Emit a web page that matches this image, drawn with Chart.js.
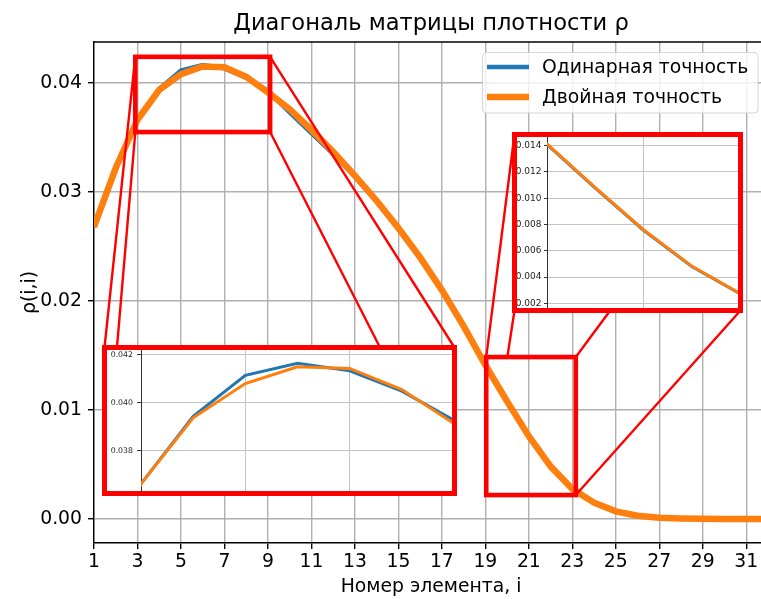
<!DOCTYPE html>
<html>
<head>
<meta charset="utf-8">
<title>Диагональ матрицы плотности ρ</title>
<script src="https://cdn.jsdelivr.net/npm/chart.js@4.4.1/dist/chart.umd.min.js"></script>
<style>
  html, body { margin: 0; padding: 0; background: #fff; overflow: hidden; }
  #wrap { position: relative; width: 761px; height: 599px; overflow: hidden; background: #fff; }
  #main { position: absolute; left: 0; top: 0; }
  .inset { position: absolute; }
</style>
</head>
<body>
<div id="wrap">
  <canvas id="main" width="776" height="599"></canvas>
  <canvas id="zoomA" class="inset" width="355" height="151" style="left:102px;top:345px"></canvas>
  <canvas id="zoomB" class="inset" width="231" height="181" style="left:512px;top:132px"></canvas>
</div>
<script>
// Element index i along the diagonal
const elementIndex = [1, 2, 3, 4, 5, 6, 7, 8, 9, 10, 11, 12, 13, 14, 15, 16,
                      17, 18, 19, 20, 21, 22, 23, 24, 25, 26, 27, 28, 29, 30, 31, 32];

// ρ(i,i) computed in single precision
const singlePrecision = [0.0268, 0.0322, 0.03663, 0.03944, 0.04115, 0.04165, 0.04134, 0.04049,
                         0.03928, 0.0373, 0.0354, 0.0335, 0.0314, 0.0291, 0.0266, 0.0239,
                         0.0210, 0.0177, 0.01410, 0.01077, 0.00755, 0.00480, 0.00273, 0.00150,
                         0.00070, 0.00030, 0.00012, 0.00005, 0.00002, 0.00001, 0.000004, 0.000001];

// ρ(i,i) computed in double precision
const doublePrecision = [0.0268, 0.0322, 0.03663, 0.03938, 0.04081, 0.04151, 0.04144, 0.04056,
                         0.03914, 0.0376, 0.0357, 0.0337, 0.0315, 0.0292, 0.0267, 0.0240,
                         0.0210, 0.0177, 0.01413, 0.01080, 0.00760, 0.00483, 0.00275, 0.00150,
                         0.00070, 0.00030, 0.00012, 0.00005, 0.00002, 0.00001, 0.000004, 0.000001];

const seriesLabels = ['Одинарная точность', 'Двойная точность'];

// Axis ticks of the main plot
const xTicks = [1, 3, 5, 7, 9, 11, 13, 15, 17, 19, 21, 23, 25, 27, 29, 31];
const yTicks = [0.00, 0.01, 0.02, 0.03, 0.04];
const xRange = [1, 32];
const yRange = [-0.0022, 0.04376];

// Zoomed window around the peak
const peakXRange = [3, 9];
const peakYRange = [0.03625, 0.04231];
const peakXTicks = [3, 5, 7, 9];
const peakYTicks = [0.038, 0.040, 0.042];
const peakMarkX = [2.9, 9.1];
const peakMarkY = [0.0355, 0.0424];

// Zoomed window on the falling edge
const tailXRange = [19, 23];
const tailYRange = [0.00145, 0.01485];
const tailXTicks = [19, 21, 23];
const tailYTicks = [0.002, 0.004, 0.006, 0.008, 0.010, 0.012, 0.014];
const tailMarkX = [19.04, 23.16];
const tailMarkY = [0.0022, 0.01486];

const FONT = "'DejaVu Sans', 'Liberation Sans', sans-serif";
const BASE = 18.8;
const BLUE = '#1f77b4';
const ORANGE = '#ff7f0e';
const RED = '#ff0000';
const GRID = '#b0b0b0';
const INSET_GRID = '#c4c4c4';

Chart.defaults.font.family = FONT;
Chart.defaults.color = '#000';

const points = values => elementIndex.map((x, k) => ({ x: x, y: values[k] }));
const fixedTicks = values => scale => { scale.ticks = values.map(v => ({ value: v })); };

function buildDatasets(blueWidth, orangeWidth) {
  return [
    { label: seriesLabels[0], data: points(singlePrecision), borderColor: BLUE, backgroundColor: BLUE,
      borderWidth: blueWidth, pointRadius: 0, tension: 0, order: 1, clip: 0 },
    { label: seriesLabels[1], data: points(doublePrecision), borderColor: ORANGE, backgroundColor: ORANGE,
      borderWidth: orangeWidth, pointRadius: 0, tension: 0, order: 0, clip: 0 }
  ];
}

// Page-pixel frames of the two inset panels (outline centre lines)
const insetFrames = [
  { left: 104.5, top: 347.5, right: 454.5, bottom: 493.5, markX: peakMarkX, markY: peakMarkY },
  { left: 514.5, top: 134.5, right: 740.5, bottom: 310.5, markX: tailMarkX, markY: tailMarkY }
];

// Top spine of the axes box
const topSpine = {
  id: 'topSpine',
  afterDatasetsDraw(chart) {
    const { ctx, chartArea: a } = chart;
    ctx.save();
    ctx.strokeStyle = '#000';
    ctx.lineWidth = 1.4;
    ctx.beginPath();
    ctx.moveTo(a.left, a.top);
    ctx.lineTo(a.right, a.top);
    ctx.stroke();
    ctx.restore();
  }
};

// Zoom rectangles on the main plot and their connectors to the insets
const zoomMarks = {
  id: 'zoomMarks',
  afterDatasetsDraw(chart) {
    const { ctx, scales: { x, y } } = chart;
    insetFrames.forEach(f => {
      const x0 = x.getPixelForValue(f.markX[0]);
      const x1 = x.getPixelForValue(f.markX[1]);
      const y0 = y.getPixelForValue(f.markY[1]);
      const y1 = y.getPixelForValue(f.markY[0]);
      // connectors, kept outside the marked rectangle
      ctx.save();
      ctx.beginPath();
      ctx.rect(0, 0, chart.width, chart.height);
      ctx.rect(x0, y0, x1 - x0, y1 - y0);
      ctx.clip('evenodd');
      ctx.strokeStyle = RED;
      ctx.lineWidth = 2.4;
      const pairs = [[x0, y0, f.left, f.top], [x1, y0, f.right, f.top],
                     [x0, y1, f.left, f.bottom], [x1, y1, f.right, f.bottom]];
      pairs.forEach(p => {
        ctx.beginPath();
        ctx.moveTo(p[0], p[1]);
        ctx.lineTo(p[2], p[3]);
        ctx.stroke();
      });
      ctx.restore();
      // the rectangle itself
      ctx.save();
      ctx.strokeStyle = RED;
      ctx.lineWidth = 4.6;
      ctx.strokeRect(x0, y0, x1 - x0, y1 - y0);
      ctx.restore();
    });
  }
};

// Legend box in the upper right corner of the axes
const boxLegend = {
  id: 'boxLegend',
  afterDraw(chart) {
    const ctx = chart.ctx;
    const bx = 482.5, by = 52.5, bw = 275.5, bh = 60.5;
    ctx.save();
    ctx.beginPath();
    ctx.roundRect(bx, by, bw, bh, 4);
    ctx.fillStyle = 'rgba(255,255,255,0.8)';
    ctx.fill();
    ctx.strokeStyle = 'rgba(204,204,204,0.8)';
    ctx.lineWidth = 1;
    ctx.stroke();
    ctx.font = BASE + 'px ' + FONT;
    ctx.textBaseline = 'middle';
    ctx.textAlign = 'left';
    chart.data.datasets.forEach((ds, k) => {
      const cy = 67 + 30 * k;
      ctx.strokeStyle = ds.borderColor;
      ctx.lineWidth = ds.borderWidth;
      ctx.beginPath();
      ctx.moveTo(487, cy);
      ctx.lineTo(529, cy);
      ctx.stroke();
      ctx.fillStyle = '#000';
      ctx.fillText(ds.label, 542, cy + 1);
    });
    ctx.restore();
  }
};

new Chart(document.getElementById('main'), {
  type: 'line',
  data: { datasets: buildDatasets(4.5, 6.5) },
  options: {
    responsive: false,
    animation: false,
    devicePixelRatio: 1,
    layout: { padding: { left: 0, right: 8, top: 0, bottom: 0 } },
    plugins: {
      legend: { display: false },
      tooltip: { enabled: false },
      title: {
        display: true,
        fullSize: false,
        text: 'Диагональ матрицы плотности ρ',
        font: { family: FONT, size: 22.6, weight: 'normal' },
        color: '#000',
        lineHeight: 1.2,
        padding: { top: 11, bottom: 3.9 }
      }
    },
    scales: {
      x: {
        type: 'linear',
        min: xRange[0], max: xRange[1],
        afterBuildTicks: fixedTicks(xTicks),
        afterFit: s => { s.height = 56; },
        grid: { color: GRID, lineWidth: 1.4, tickLength: 6, tickColor: '#000', tickWidth: 1.4 },
        border: { color: '#000', width: 1.4 },
        ticks: { font: { family: FONT, size: BASE }, color: '#000', padding: 2,
                 maxRotation: 0, autoSkip: false, callback: v => String(v) },
        title: { display: true, text: 'Номер элемента, i', font: { family: FONT, size: BASE },
                 color: '#000', padding: { top: 0, bottom: 1 } }
      },
      y: {
        type: 'linear',
        min: yRange[0], max: yRange[1],
        afterBuildTicks: fixedTicks(yTicks),
        afterFit: s => { s.width = 94; },
        grid: { color: GRID, lineWidth: 1.4, tickLength: 6, tickColor: '#000', tickWidth: 1.4 },
        border: { color: '#000', width: 1.4 },
        ticks: { font: { family: FONT, size: BASE }, color: '#000', padding: 6,
                 callback: v => v.toFixed(2) },
        title: { display: true, text: 'ρ(i,i)', font: { family: FONT, size: BASE },
                 color: '#000', padding: { top: 19, bottom: 0 } }
      }
    }
  },
  plugins: [topSpine, zoomMarks, boxLegend]
});

// Inset panel: white background, red outline, its own axes
const insetPanel = {
  id: 'insetPanel',
  beforeDraw(chart) {
    const ctx = chart.ctx;
    ctx.save();
    ctx.fillStyle = '#fff';
    ctx.fillRect(0, 0, chart.width, chart.height);
    ctx.restore();
  },
  afterDraw(chart) {
    const ctx = chart.ctx;
    ctx.save();
    ctx.strokeStyle = RED;
    ctx.lineWidth = 5;
    ctx.strokeRect(2.5, 2.5, chart.width - 5, chart.height - 5);
    ctx.restore();
  }
};

function makeInset(id, xr, yr, xt, yt, o) {
  return new Chart(document.getElementById(id), {
    type: 'line',
    data: { datasets: buildDatasets(3, 3) },
    options: {
      responsive: false,
      animation: false,
      devicePixelRatio: 1,
      layout: { padding: { left: 0, right: 3, top: 2.5, bottom: 0 } },
      plugins: { legend: { display: false }, tooltip: { enabled: false }, title: { display: false } },
      scales: {
        x: {
          type: 'linear', min: xr[0], max: xr[1],
          afterBuildTicks: fixedTicks(xt),
          afterFit: s => { s.height = o.bottom; s.paddingLeft = 0; s.paddingRight = 0; },
          grid: { color: INSET_GRID, lineWidth: 1, drawTicks: false },
          border: { display: false },
          ticks: { display: false }
        },
        y: {
          type: 'linear', min: yr[0], max: yr[1],
          afterBuildTicks: fixedTicks(yt),
          afterFit: s => { s.width = o.left; s.paddingTop = 0; s.paddingBottom = 0; },
          grid: { color: INSET_GRID, lineWidth: 1, tickLength: o.tick, tickColor: '#333', tickWidth: 1 },
          border: { color: '#333', width: 1 },
          ticks: { font: { family: FONT, size: o.font }, color: '#222', padding: o.pad,
                   callback: v => v.toFixed(3) }
        }
      }
    },
    plugins: [insetPanel]
  });
}

makeInset('zoomA', peakXRange, peakYRange, peakXTicks, peakYTicks,
          { left: 39, bottom: 3, font: 7.8, tick: 4, pad: 4 });
makeInset('zoomB', tailXRange, tailYRange, tailXTicks, tailYTicks,
          { left: 35, bottom: 2.5, font: 9, tick: 3, pad: 2.5 });
</script>
</body>
</html>
